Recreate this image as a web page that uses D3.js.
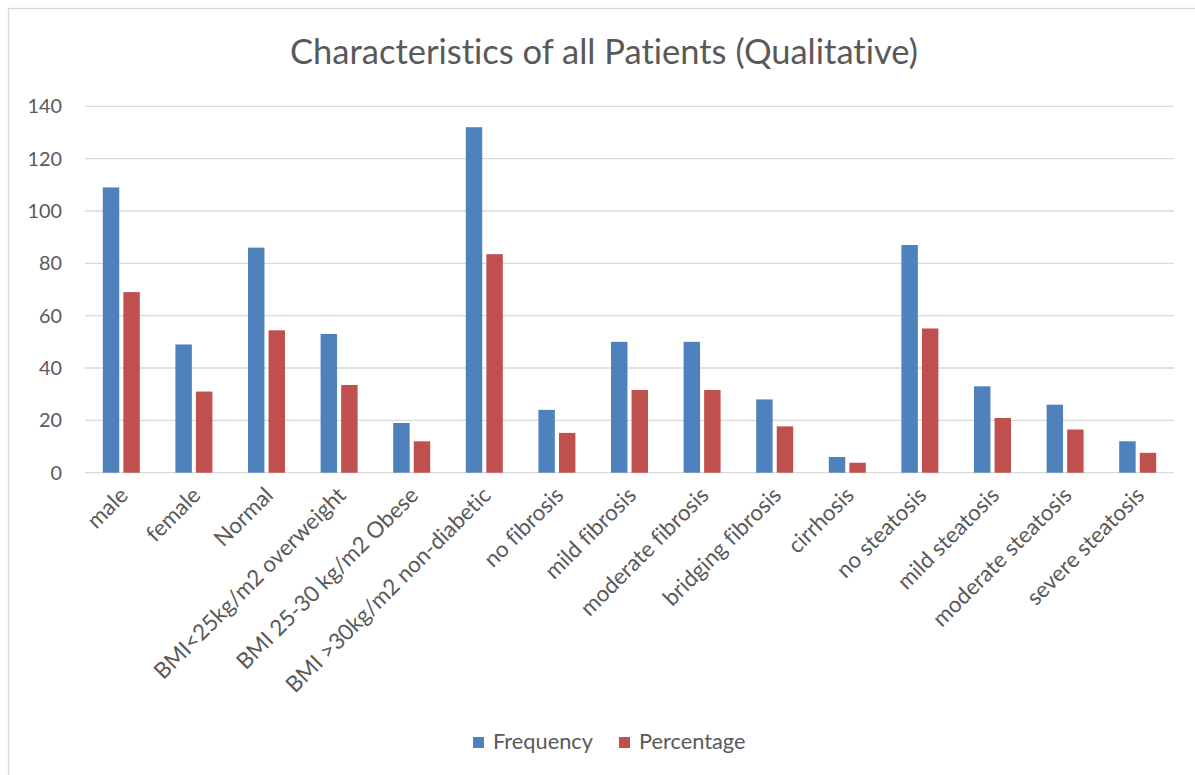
<!DOCTYPE html>
<html>
<head>
<meta charset="utf-8">
<script src="https://cdn.jsdelivr.net/npm/d3@7"></script>
<style>
  body { margin: 0; background: #fff; }
  text { font-family: Lato, "Open Sans", sans-serif; fill: #595959; font-variant-ligatures: none; }
</style>
</head>
<body>
<svg id="chart" width="1195" height="775"></svg>
<script>
// data
const categories = ["male", "female", "Normal", "BMI<25kg/m2 overweight", "BMI 25-30 kg/m2 Obese",
  "BMI >30kg/m2 non-diabetic", "no fibrosis", "mild fibrosis", "moderate fibrosis",
  "bridging fibrosis", "cirrhosis", "no steatosis", "mild steatosis", "moderate steatosis",
  "severe steatosis"];
const frequency = [109, 49, 86, 53, 19, 132, 24, 50, 50, 28, 6, 87, 33, 26, 12];
const percentage = [69.0, 31.0, 54.4, 33.5, 12.0, 83.5, 15.2, 31.6, 31.6, 17.7, 3.8, 55.1, 20.9, 16.5, 7.6];
const seriesNames = ["Frequency", "Percentage"];
const seriesColors = ["#4F81BD", "#C0504D"];
const yTicks = [0, 20, 40, 60, 80, 100, 120, 140];
const chartTitle = "Characteristics of all Patients (Qualitative)";

const svg = d3.select("#chart");
const W = 1195, H = 775;
const plot = {left: 85, right: 1174, top: 106.3, bottom: 472.7};

// size a text so that its width hits a target
function fitWidth(sel, target) {
  const node = sel.node();
  const base = parseFloat(sel.attr("font-size"));
  const w = node.getComputedTextLength();
  sel.attr("font-size", (base * target / w).toFixed(2));
}

svg.append("rect").attr("width", W).attr("height", H).attr("fill", "#fff");
// chart border (runs off the right and bottom edges)
svg.append("rect")
  .attr("x", 8.5).attr("y", 8.5)
  .attr("width", 1200).attr("height", 800)
  .attr("fill", "#fff").attr("stroke", "#D9D9D9").attr("stroke-width", 1.3);

const x = d3.scaleBand().domain(categories).range([plot.left, plot.right]);
const xs = d3.scaleBand().domain(seriesNames)
  .range([x.bandwidth() / 2 - 18.5, x.bandwidth() / 2 + 18.5])
  .paddingInner(0.2);
const y = d3.scaleLinear().domain([0, 140]).range([plot.bottom, plot.top]);

// gridlines
svg.append("g").selectAll("line").data(yTicks).join("line")
  .attr("x1", plot.left).attr("x2", plot.right)
  .attr("y1", d => y(d)).attr("y2", d => y(d))
  .attr("stroke", "#D9D9D9").attr("stroke-width", 1.3);

// y tick labels
const yl = svg.append("g").selectAll("text").data(yTicks).join("text")
  .attr("x", 62).attr("y", d => y(d))
  .attr("dy", "0.36em")
  .attr("text-anchor", "end")
  .attr("font-size", 20)
  .text(d => d);
fitWidth(d3.select(yl.nodes()[7]), 34.5);
yl.attr("font-size", d3.select(yl.nodes()[7]).attr("font-size"));

// bars
const series = [frequency, percentage];
const groups = svg.append("g").selectAll("g").data(seriesNames).join("g")
  .attr("fill", (d, i) => seriesColors[i]);
groups.selectAll("rect")
  .data((name, si) => categories.map((c, i) => ({c, name, v: series[si][i]})))
  .join("rect")
  .attr("x", d => x(d.c) + xs(d.name))
  .attr("width", xs.bandwidth())
  .attr("y", d => y(d.v))
  .attr("height", d => y(0) - y(d.v));

// x labels, rotated
const xl = svg.append("g").selectAll("text").data(categories).join("text")
  .attr("text-anchor", "end")
  .attr("font-size", 20)
  .attr("transform", d => `translate(${x(d) + x.bandwidth() / 2 + 8},${plot.bottom + 24}) rotate(-45)`)
  .text(d => d);
fitWidth(d3.select(xl.nodes()[5]), 279);
xl.attr("font-size", d3.select(xl.nodes()[5]).attr("font-size"));

// title
const title = svg.append("text")
  .attr("x", 604).attr("y", 64)
  .attr("text-anchor", "middle")
  .attr("font-size", 30)
  .text(chartTitle);
fitWidth(title, 628);

// legend
const legX = [473, 619];
const leg = svg.append("g").selectAll("g").data(seriesNames).join("g")
  .attr("transform", (d, i) => `translate(${legX[i]},737)`);
leg.append("rect").attr("width", 11).attr("height", 11)
  .attr("fill", (d, i) => seriesColors[i]);
const legText = leg.append("text")
  .attr("x", 20).attr("y", 11.5)
  .attr("font-size", 20)
  .text(d => d);
fitWidth(d3.select(legText.nodes()[0]), 100);
legText.attr("font-size", d3.select(legText.nodes()[0]).attr("font-size"));
</script>
</body>
</html>
